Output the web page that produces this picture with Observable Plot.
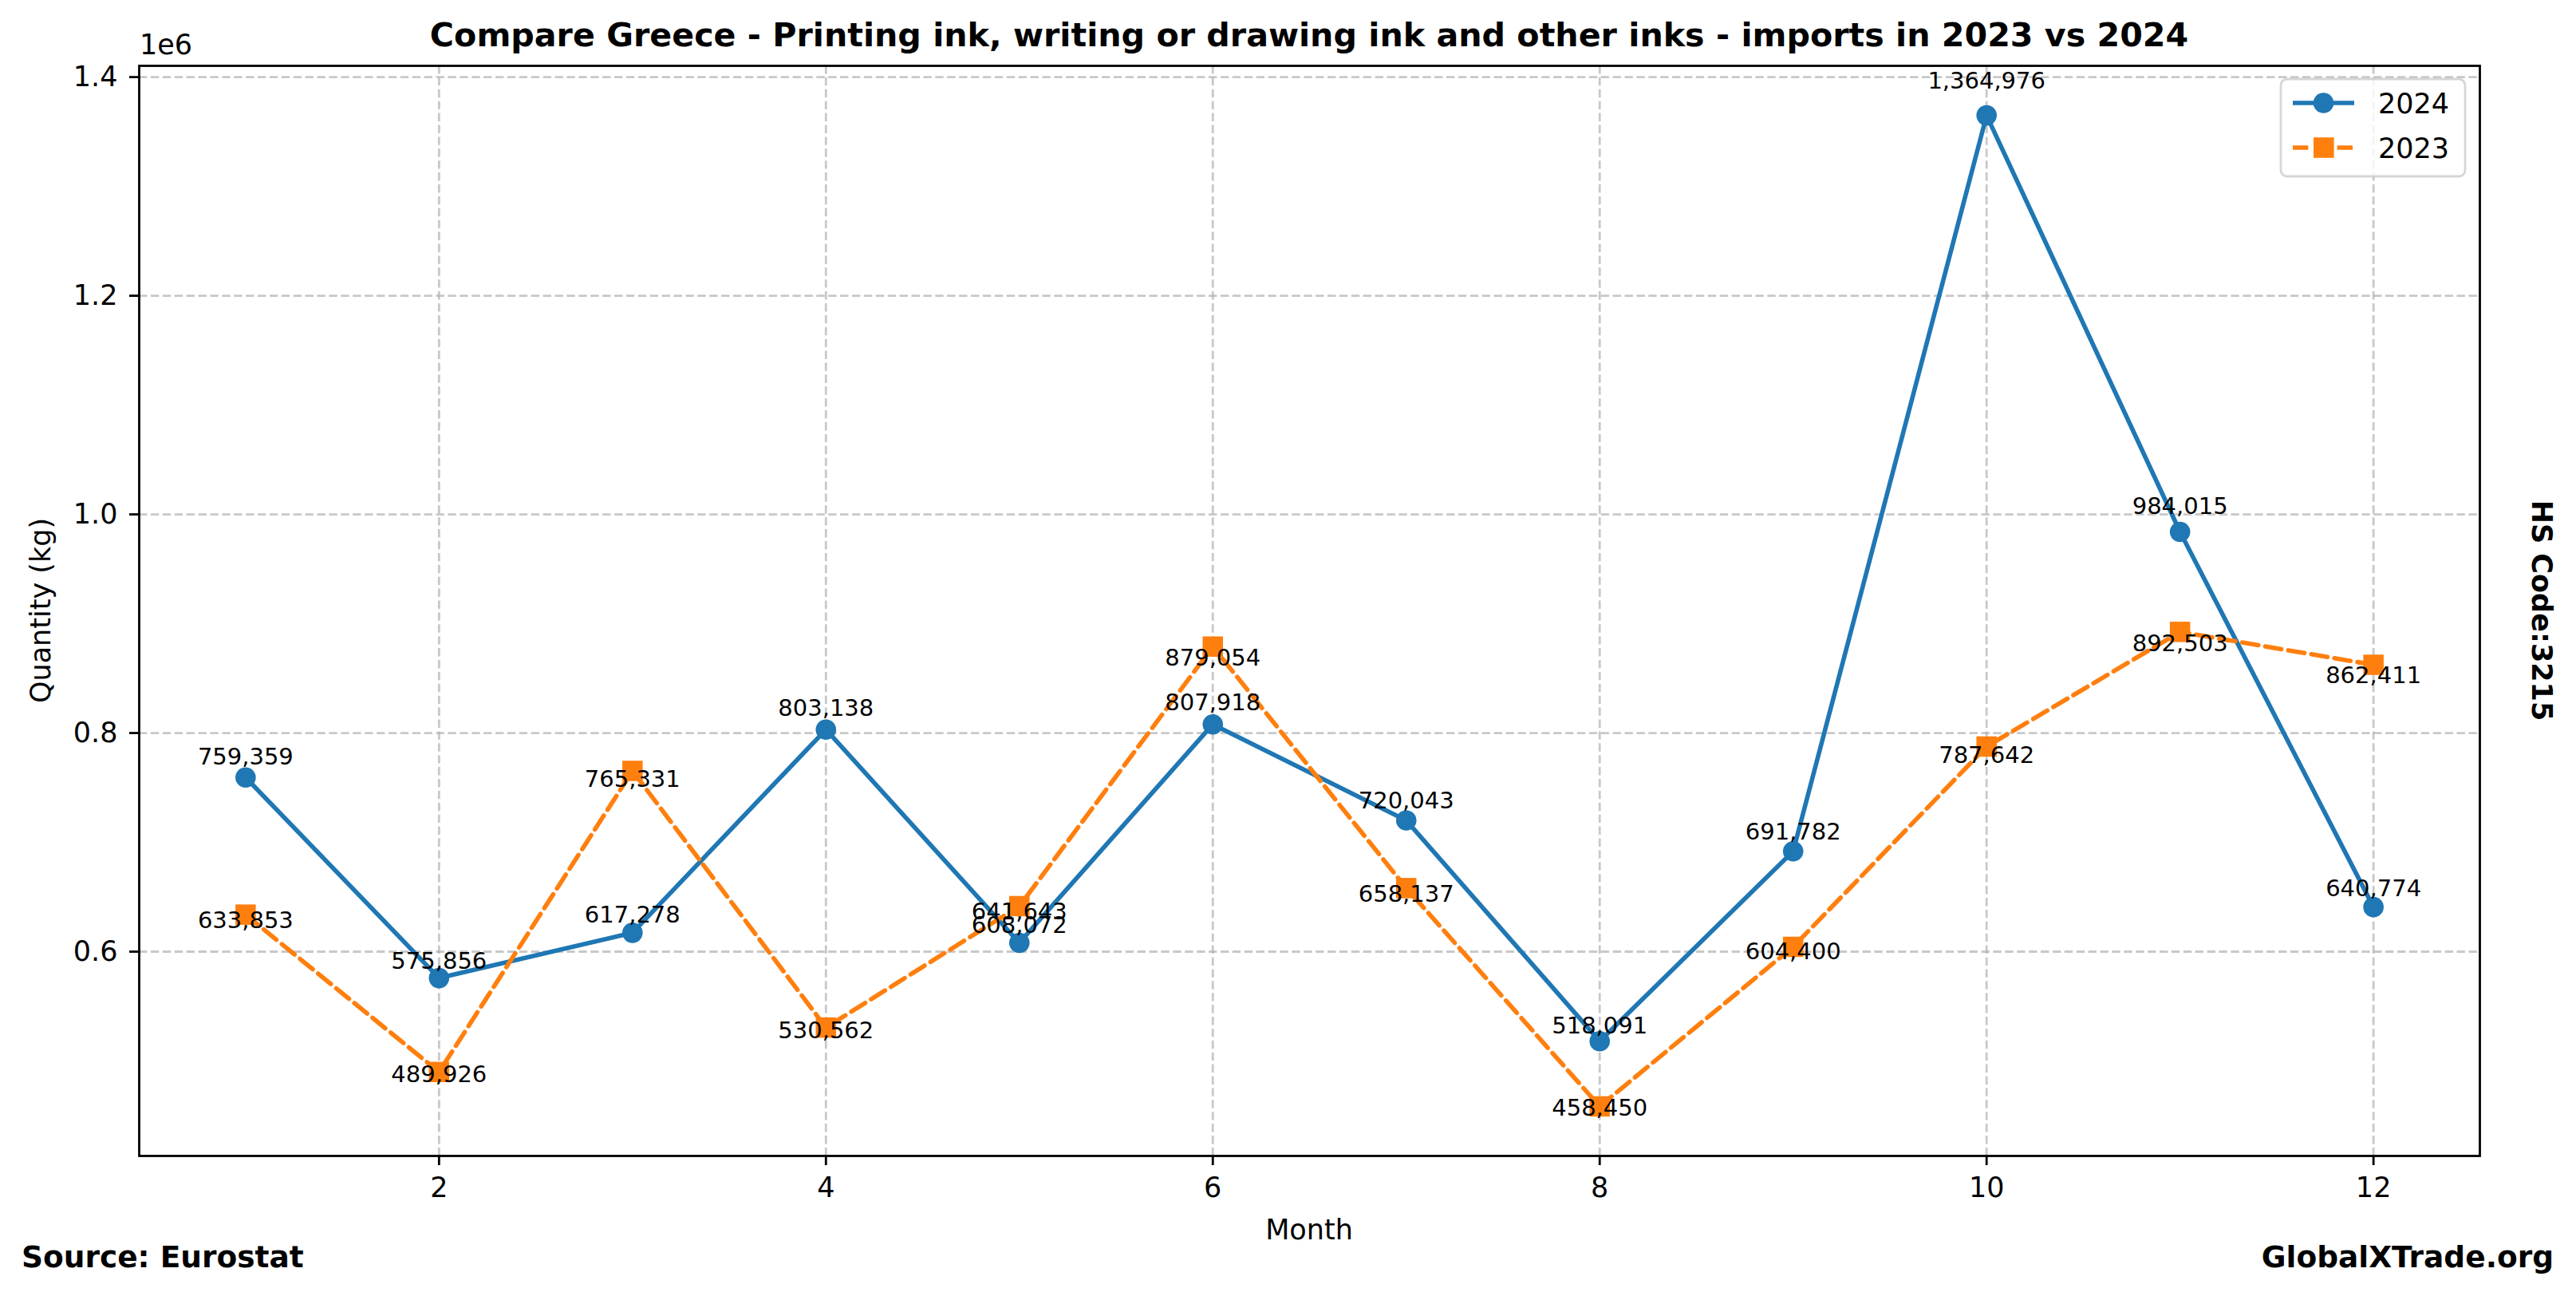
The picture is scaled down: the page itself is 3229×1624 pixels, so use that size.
<!DOCTYPE html>
<html>
<head>
<meta charset="utf-8">
<script src="https://cdn.jsdelivr.net/npm/d3@7"></script>
<script src="https://cdn.jsdelivr.net/npm/@observablehq/plot@0.6"></script>
<style>
  html, body { margin: 0; padding: 0; background: #fff; }
  #wrap { position: relative; width: 3229px; height: 1624px; font-family: "DejaVu Sans", sans-serif; }
  #overlay { position: absolute; left: 0; top: 0; pointer-events: none; }
</style>
</head>
<body>
<div id="wrap"></div>
<script>
// ---- data ----
const months = [1, 2, 3, 4, 5, 6, 7, 8, 9, 10, 11, 12];
const qty2024 = [759359, 575856, 617278, 803138, 608072, 807918, 720043, 518091, 691782, 1364976, 984015, 640774];
const qty2023 = [633853, 489926, 765331, 530562, 641643, 879054, 658137, 458450, 604400, 787642, 892503, 862411];
const xTicks = [2, 4, 6, 8, 10, 12];
const yTicks = [600000, 800000, 1000000, 1200000, 1400000];
const seriesNames = ["2024", "2023"];
const seriesColors = ["#1f77b4", "#ff7f0e"];
const titleText = "Compare Greece - Printing ink, writing or drawing ink and other inks - imports in 2023 vs 2024";
const xLabel = "Month";
const yLabel = "Quantity (kg)";
const sideText = "HS Code:3215";
const sourceText = "Source: Eurostat";
const brandText = "GlobalXTrade.org";

const fmt = d3.format(",");
const rows2024 = months.map((m, i) => ({month: m, value: qty2024[i]}));
const rows2023 = months.map((m, i) => ({month: m, value: qty2023[i]}));

const W = 3229, H = 1624;
const mL = 174, mR = 121, mT = 82, mB = 176;
const allVals = qty2024.concat(qty2023);
const vMin = d3.min(allVals), vMax = d3.max(allVals), pad = (vMax - vMin) * 0.05;

const grid = {stroke: "#b0b0b0", strokeOpacity: 0.7, strokeWidth: 2.8, strokeDasharray: "10.4,4.5"};

const chart = Plot.plot({
  width: W,
  height: H,
  marginLeft: mL,
  marginRight: mR,
  marginTop: mT,
  marginBottom: mB,
  style: {fontFamily: "DejaVu Sans, sans-serif", fontSize: "35px", color: "black", background: "white"},
  x: {domain: [0.45, 12.55]},
  y: {domain: [vMin - pad, vMax + pad]},
  marks: [
    Plot.gridX(xTicks, grid),
    Plot.gridY(yTicks, grid),
    Plot.axisX(xTicks, {tickSize: 12, tickPadding: 15, strokeWidth: 2.8, fontSize: 35, label: null, tickFormat: d => String(d)}),
    Plot.axisY(yTicks, {tickSize: 12, tickPadding: 15, strokeWidth: 2.8, fontSize: 35, label: null, tickFormat: d => (d / 1e6).toFixed(1)}),
    Plot.line(rows2024, {x: "month", y: "value", stroke: seriesColors[0], strokeWidth: 5.6}),
    Plot.dot(rows2024, {x: "month", y: "value", r: 12.8, fill: seriesColors[0], symbol: "circle"}),
    Plot.line(rows2023, {x: "month", y: "value", stroke: seriesColors[1], strokeWidth: 5.6, strokeDasharray: "20.5,8.8"}),
    Plot.dot(rows2023, {x: "month", y: "value", r: 14.4, fill: seriesColors[1], symbol: "square"}),
    Plot.text(rows2024, {x: "month", y: d => d.value * 1.02, text: d => fmt(d.value), fontSize: 29, lineAnchor: "middle", dy: -5, fill: "black"}),
    Plot.text(rows2023, {x: "month", y: d => d.value * 0.98, text: d => fmt(d.value), fontSize: 29, lineAnchor: "middle", dy: -10, fill: "black"}),
    Plot.frame({stroke: "black", strokeWidth: 2.8})
  ]
});

const wrap = document.getElementById("wrap");
wrap.appendChild(chart);

// ---- overlay: title, labels, legend ----
const ns = "http://www.w3.org/2000/svg";
const ov = document.createElementNS(ns, "svg");
ov.setAttribute("id", "overlay");
ov.setAttribute("width", W);
ov.setAttribute("height", H);
ov.setAttribute("font-family", "DejaVu Sans, sans-serif");
wrap.appendChild(ov);

function el(tag, attrs, text) {
  const e = document.createElementNS(ns, tag);
  for (const k in attrs) e.setAttribute(k, attrs[k]);
  if (text != null) e.textContent = text;
  ov.appendChild(e);
  return e;
}

const axCx = (mL + (W - mR)) / 2;
const axCy = (mT + (H - mB)) / 2;

el("text", {x: axCx, y: 58, "text-anchor": "middle", "font-size": 41.2, "font-weight": "bold", fill: "black"}, titleText);
el("text", {x: 175, y: 68, "font-size": 35, fill: "black"}, "1e6");
el("text", {x: axCx, y: 1553, "text-anchor": "middle", "font-size": 35, fill: "black"}, xLabel);
el("text", {x: 0, y: 0, "text-anchor": "middle", "font-size": 35, fill: "black",
  transform: `translate(63,${axCy}) rotate(-90)`}, yLabel);
el("text", {x: 0, y: 0, "text-anchor": "middle", "font-size": 35, "font-weight": "bold", fill: "black",
  transform: `translate(3174,${axCy}) rotate(90)`}, sideText);
el("text", {x: 27, y: 1588, "font-size": 37.5, "font-weight": "bold", fill: "black"}, sourceText);
el("text", {x: 3201, y: 1588, "text-anchor": "end", "font-size": 37.5, "font-weight": "bold", fill: "black"}, brandText);

// legend
el("rect", {x: 2859, y: 99, width: 231, height: 122, rx: 8, fill: "white", "fill-opacity": 0.8,
  stroke: "#cccccc", "stroke-opacity": 0.8, "stroke-width": 2.8});
const rowsY = [129, 185];
seriesNames.forEach((name, i) => {
  const y = rowsY[i];
  el("line", {x1: 2874, x2: 2951, y1: y, y2: y, stroke: seriesColors[i], "stroke-width": 5.6,
    "stroke-dasharray": i === 1 ? "19.4,8.4" : "none"});
  if (i === 0) el("circle", {cx: 2912.5, cy: y, r: 12.8, fill: seriesColors[i]});
  else el("rect", {x: 2900, y: y - 12.8, width: 25.6, height: 25.6, fill: seriesColors[i]});
  el("text", {x: 2981, y: y + 12.5, "font-size": 35, fill: "black"}, name);
});
</script>
</body>
</html>
